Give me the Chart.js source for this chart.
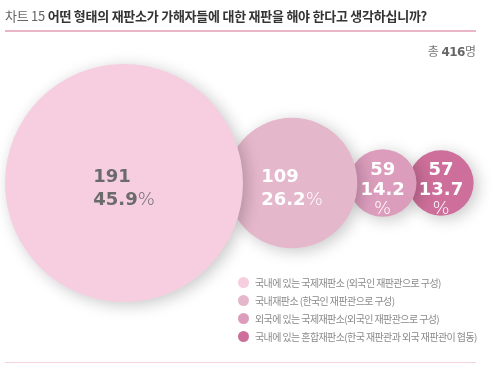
<!DOCTYPE html>
<html>
<head>
<meta charset="utf-8">
<script src="https://cdn.jsdelivr.net/npm/chart.js@4"></script>
<style>
  body { margin: 0; background: #fff; }
  #wrap { position: relative; width: 500px; height: 379px; overflow: hidden; font-family: "Noto Sans CJK KR", "Noto Sans", sans-serif; }
  #bubbleChart { position: absolute; left: 0; top: 0; }
  .title { position: absolute; left: 5px; top: 6px; font-size: 13px; line-height: 20px; color: #333; letter-spacing: -0.25px; white-space: nowrap; }
  .title .no { color: #666; font-weight: 400; }
  .title b { font-weight: 700; }
  .rule { position: absolute; left: 5px; width: 471px; }
  .total { position: absolute; right: 24px; top: 43px; font-size: 12px; line-height: 16px; color: #777; white-space: nowrap; }
  .total b { font-family: "DejaVu Sans", sans-serif; font-weight: 700; color: #666; letter-spacing: -0.5px; }
  #legend { position: absolute; left: 238px; top: 274px; }
  .item { height: 18px; line-height: 18px; font-size: 10px; color: #8a8a8a; white-space: nowrap; letter-spacing: -0.6px; }
  .dot { display: inline-block; width: 11px; height: 11px; border-radius: 50%; vertical-align: -1px; margin-right: 6px; }
</style>
</head>
<body>
<div id="wrap">
  <canvas id="bubbleChart" width="500" height="379"></canvas>
  <div class="title"><span class="no">차트 15</span> <b>어떤 형태의 재판소가 가해자들에 대한 재판을 해야 한다고 생각하십니까?</b></div>
  <div class="rule" style="top:30px;height:2px;background:#eab4c9;"></div>
  <div class="total">총 <b>416</b>명</div>
  <div id="legend"></div>
  <div class="rule" style="top:362px;height:1px;background:#f2d2de;"></div>
</div>
<script>
let categories = [
  "국내에 있는 국제재판소 (외국인 재판관으로 구성)",
  "국내재판소 (한국인 재판관으로 구성)",
  "외국에 있는 국제재판소(외국인 재판관으로 구성)",
  "국내에 있는 혼합재판소(한국 재판관과 외국 재판관이 협동)"
];
let counts = [191, 109, 59, 57];
let pcts = [45.9, 26.2, 14.2, 13.7];
let colors = ["#f6cee0", "#e5b7cb", "#dc9dbd", "#cd6f9a"];
let labelColors = ["#6b6b6b", "#ffffff", "#ffffff", "#ffffff"];

// bubble size grows with the count, bubbles sit in one row, slightly overlapping
let maxR = 119;
let rowY = 183;
let maxCount = Math.max(...counts);
let radii = counts.map(v => maxR * Math.pow(v / maxCount, 1.07));
let centers = [];
for (let i = 0; i < radii.length; i++) {
  if (i == 0) centers[i] = 5 + radii[0];
  else centers[i] = centers[i - 1] + radii[i - 1] + radii[i] - 0.25 * Math.min(radii[i - 1], radii[i]);
}

let datasets = [];
for (let i = 0; i < counts.length; i++) {
  datasets.push({
    label: categories[i],
    data: [{ x: centers[i], y: rowY, r: radii[i] }],
    backgroundColor: colors[i],
    borderWidth: 0,
    order: i,
    clip: false
  });
}

const shadowAndLabels = {
  id: "shadowAndLabels",
  beforeDatasetsDraw(chart) {
    let ctx = chart.ctx;
    ctx.save();
    ctx.shadowColor = "rgba(0,0,0,0.22)";
    ctx.shadowBlur = 16;
    ctx.shadowOffsetX = 4;
    ctx.shadowOffsetY = 3;
  },
  afterDatasetsDraw(chart) {
    let ctx = chart.ctx;
    ctx.restore();
    ctx.save();
    ctx.textBaseline = "alphabetic";
    for (let i = 0; i < counts.length; i++) {
      let el = chart.getDatasetMeta(i).data[0];
      let x = el.x, y = el.y;
      let num = pcts[i].toFixed(1);
      ctx.fillStyle = labelColors[i];
      let bold = "bold 18px 'DejaVu Sans'";
      let light = "200 18px 'DejaVu Sans'";
      if (radii[i] > 50) {
        ctx.font = bold;
        let wNum = ctx.measureText(num).width;
        ctx.font = light;
        let wPct = ctx.measureText("%").width;
        let sx = x - (wNum + wPct) / 2;
        ctx.textAlign = "left";
        ctx.font = bold;
        ctx.fillText(String(counts[i]), sx, y - 1);
        ctx.fillText(num, sx, y + 22);
        ctx.font = light;
        ctx.fillText("%", sx + wNum, y + 22);
      } else {
        ctx.textAlign = "center";
        ctx.font = bold;
        ctx.fillText(String(counts[i]), x, y - 8);
        ctx.fillText(num, x, y + 12);
        ctx.font = light;
        ctx.fillText("%", x, y + 31);
      }
    }
    ctx.restore();
  }
};

let bubbleChart = new Chart("bubbleChart", {
  type: "bubble",
  data: { datasets: datasets },
  options: {
    responsive: false,
    animation: false,
    layout: { padding: 0, autoPadding: false },
    scales: {
      x: { display: false, min: 0, max: 500 },
      y: { display: false, min: 0, max: 379, reverse: true }
    },
    plugins: {
      legend: { display: false },
      tooltip: { enabled: false }
    }
  },
  plugins: [shadowAndLabels]
});

// html legend built from the chart's datasets
let legendBox = document.getElementById("legend");
bubbleChart.data.datasets.forEach(function (ds) {
  let row = document.createElement("div");
  row.className = "item";
  let dot = document.createElement("span");
  dot.className = "dot";
  dot.style.background = ds.backgroundColor;
  row.appendChild(dot);
  row.appendChild(document.createTextNode(ds.label));
  legendBox.appendChild(row);
});
</script>
</body>
</html>
